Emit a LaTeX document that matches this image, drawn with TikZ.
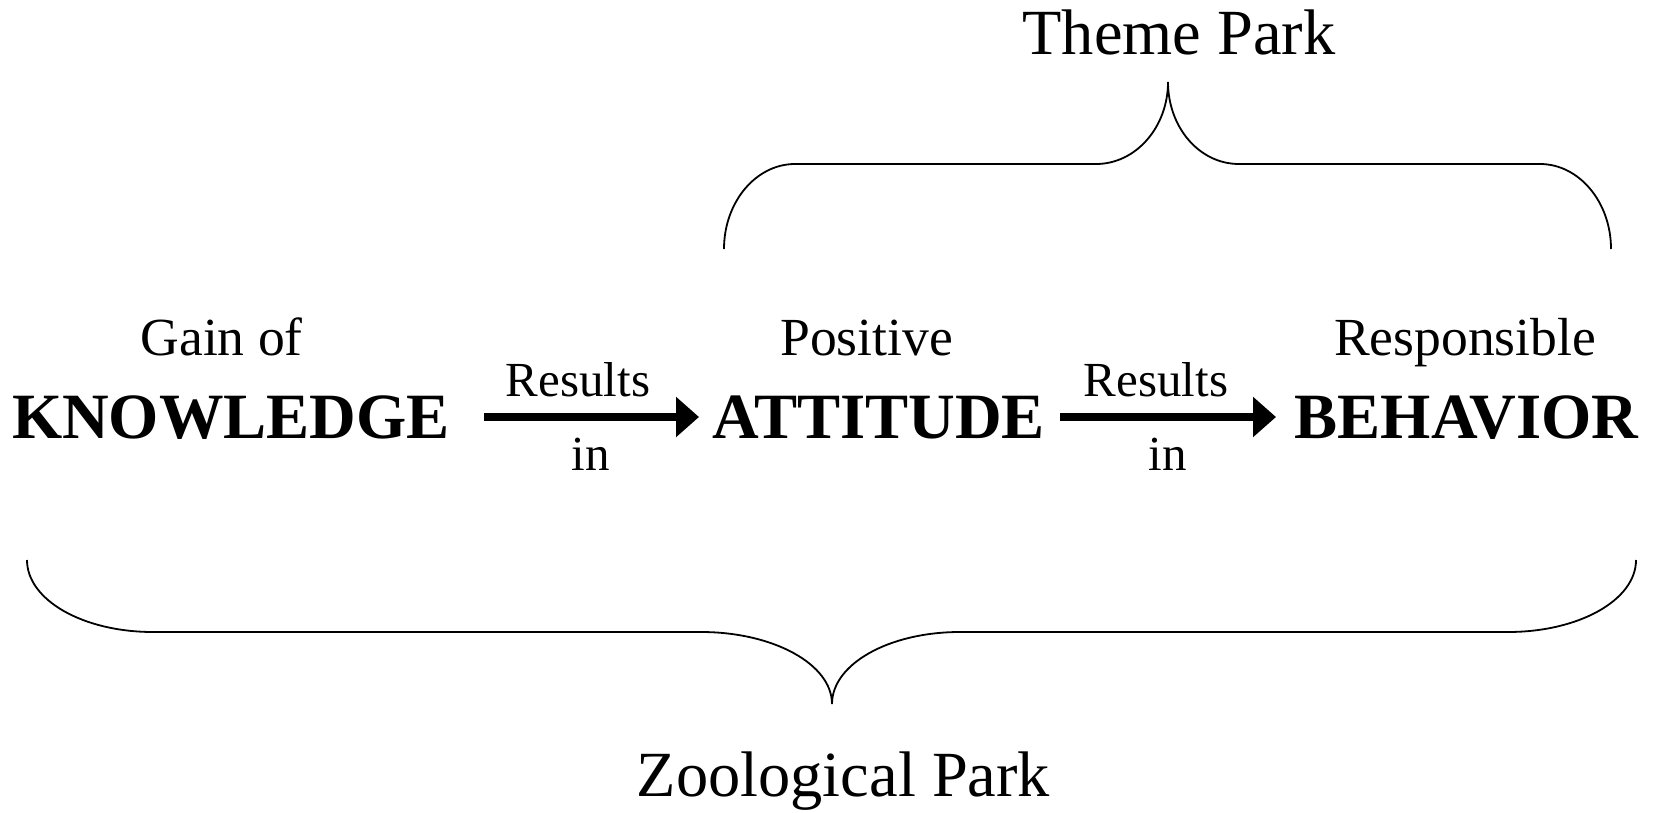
\documentclass[tikz,border=0pt]{standalone}
\usepackage{fontspec}
\setmainfont{Liberation Serif}
\usetikzlibrary{arrows.meta}
\tikzset{
  lbl/.style={anchor=base,inner sep=0pt,font=\fontsize{26.8}{30}\selectfont},
  big/.style={anchor=base,inner sep=0pt,font=\fontsize{32.3}{36}\selectfont\bfseries},
  park/.style={anchor=base,inner sep=0pt,font=\fontsize{32.2}{36}\selectfont},
  res/.style={anchor=base,inner sep=0pt,font=\fontsize{24.5}{28}\selectfont},
  arr/.style={line width=3.9pt,-{Triangle[length=11.5pt,width=19.5pt]}},
  brace/.style={line width=0.9pt}
}
\begin{document}
\begin{tikzpicture}[x=0.5pt,y=-0.5pt]
\useasboundingbox (0,0) rectangle (1654,813);
% texts
\node[park] (theme) at (1179,55) {Theme Park};
\node[park] (zoo) at (843.5,796) {Zoological Park};
\node[lbl] (gain) at (221.7,355) {Gain of};
\node[big] (know) at (231,438.3) {KNOWLEDGE};
\node[lbl] (pos) at (866.7,355) {Positive};
\node[big] (att) at (878.5,438.3) {ATTITUDE};
\node[lbl] (resp) at (1465,355) {Responsible};
\node[big] (beh) at (1466.5,438.3) {BEHAVIOR};
\node[res] (r1) at (578,396.7) {Results};
\node[res] (i1) at (591,470.7) {in};
\node[res] (r2) at (1156,396.7) {Results};
\node[res] (i2) at (1168,470.7) {in};
% arrows
\coordinate (a1s) at (484,417);
\coordinate (a1e) at (699,417);
\coordinate (a2s) at (1060,417);
\coordinate (a2e) at (1276,417);
\draw[arr] (a1s) -- (a1e);
\draw[arr] (a2s) -- (a2e);
% top brace
\coordinate (tl) at (724,249);
\coordinate (ttip) at (1168,82);
\coordinate (tr) at (1611,249);
\draw[brace] (tl) .. controls (724,202) and (756,164) .. (795,164)
  -- (1096,164) .. controls (1136,164) and (1168,127) .. (ttip)
  .. controls (1168,127) and (1199,164) .. (1239,164)
  -- (1540,164) .. controls (1579,164) and (1611,202) .. (tr);
% bottom brace
\coordinate (bl) at (27,560);
\coordinate (btip) at (832,704);
\coordinate (br) at (1636,560);
\draw[brace] (bl) .. controls (27,600) and (83,632) .. (153,632)
  -- (701,632) .. controls (773,632) and (832,664) .. (btip)
  .. controls (832,664) and (889,632) .. (960,632)
  -- (1508,632) .. controls (1579,632) and (1636,600) .. (br);
\end{tikzpicture}
\end{document}
